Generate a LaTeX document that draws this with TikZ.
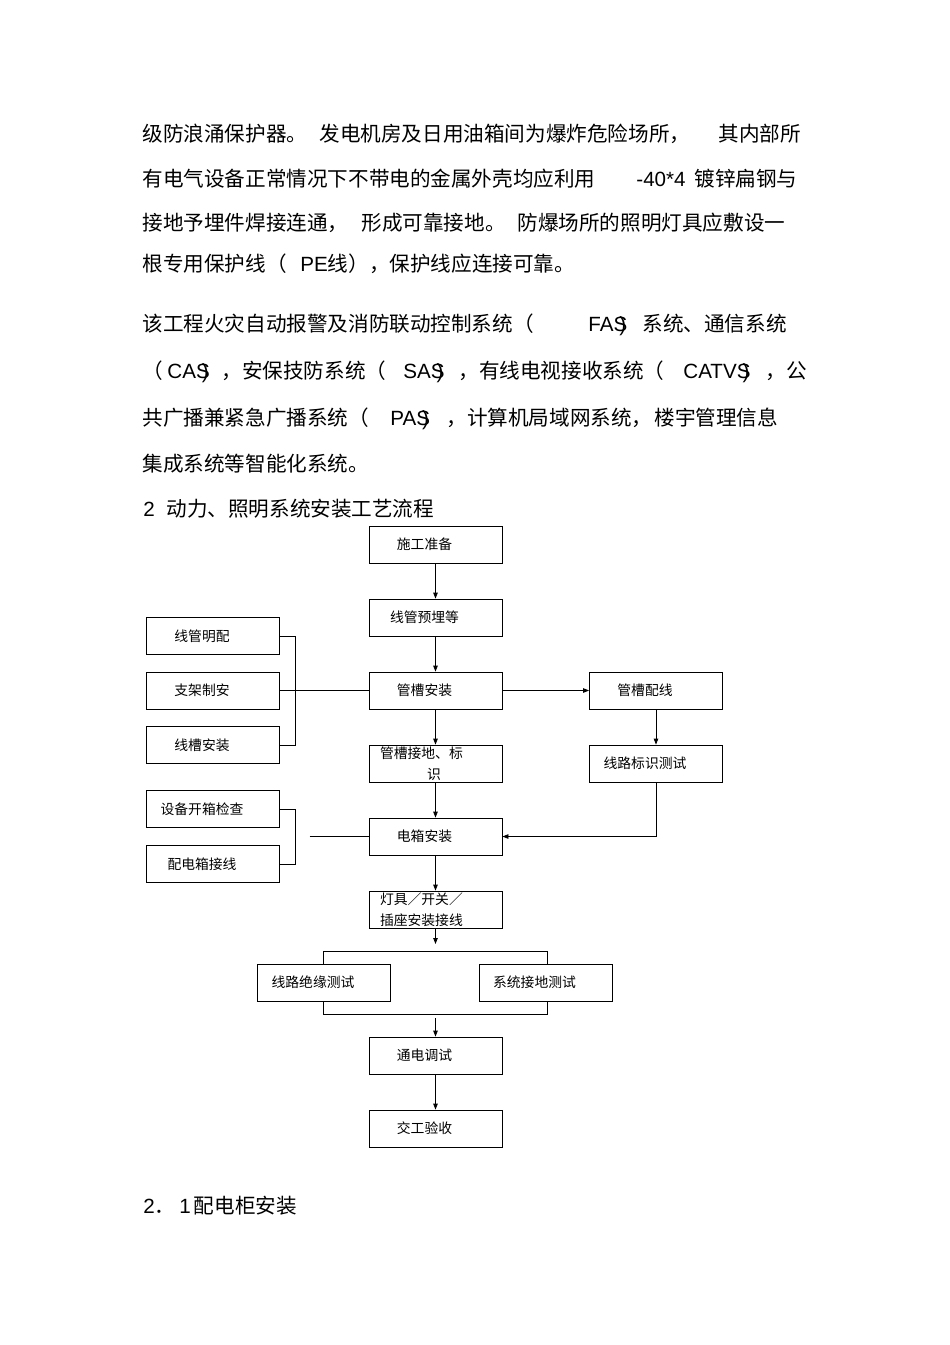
\documentclass[tikz,border=0pt]{standalone}
\usepackage{fontspec}
\setmainfont{Noto Sans CJK SC}
\newfontfamily\lat{Liberation Sans}
\usetikzlibrary{positioning,arrows.meta}
\newcommand{\bodyfont}{\fontsize{20.6}{24}\selectfont}
\newcommand{\boxfont}{\fontsize{13.8}{21}\selectfont}
\tikzset{
  box/.style={draw, fill=white, minimum width=133pt, minimum height=37pt, inner sep=0pt, font=\boxfont},
  boxt/.style={box, label={[xshift=-11pt, font=\boxfont]center:#1}},
  para/.style={anchor=base west, inner sep=0pt, font=\bodyfont, yshift=-8pt},
}

\begin{document}
\begin{tikzpicture}[x=1pt, y=-1pt, >={Triangle[length=6pt,width=4.5pt]}, node distance=73pt, on grid, line width=0.8pt]
  \fill[white] (0,0) rectangle (950,1345);
  \useasboundingbox (0,0) rectangle (950,1345);

  % text above the chart
  \node[para] (p1a) at (142,133) {级防浪涌保护器。};
  \node[para] (p1b) at (319,133) {发电机房及日用油箱间为爆炸危险场所，};
  \node[para] (p1c) at (718,133) {其内部所};
  \node[para] (p2a) at (142,178) {有电气设备正常情况下不带电的金属外壳均应利用};
  \node[para] (p2b) at (636,178) {\lat -40*4};
  \node[para] (p2c) at (694,178) {镀锌扁钢与};
  \node[para] (p3a) at (142,222) {接地予埋件焊接连通，};
  \node[para] (p3b) at (361,222) {形成可靠接地。};
  \node[para] (p3c) at (517,222) {防爆场所的照明灯具应敷设一};
  \node[para] (p4a) at (142,263) {根专用保护线（};
  \node[para] (p4b) at (300,263) {{\lat PE}线），保护线应连接可靠。};
  \node[para] (p5a) at (142,323) {该工程火灾自动报警及消防联动控制系统（};
  \node[para] (p5b) at (588,323) {\lat FAS\kern-8pt)};
  \node[para] (p5c) at (642,323) {系统、通信系统};
  \node[para] (p6a) at (142,370) {（};
  \node[para] (p6b) at (167,370) {\lat CAS\kern-8pt)};
  \node[para] (p6c) at (221,370) {，安保技防系统（};
  \node[para] (p6d) at (403,370) {\lat SAS\kern-8pt)};
  \node[para] (p6e) at (458,370) {，有线电视接收系统（};
  \node[para] (p6f) at (683,370) {\lat CATVS\kern-8pt)};
  \node[para] (p6g) at (765,370) {，公};
  \node[para] (p7a) at (142,417) {共广播兼紧急广播系统（};
  \node[para] (p7b) at (390,417) {\lat PAS\kern-8pt)};
  \node[para] (p7c) at (446,417) {，计算机局域网系统，};
  \node[para] (p7d) at (654,417) {楼宇管理信息};
  \node[para] (p8) at (142,463) {集成系统等智能化系统。};
  \node[para] (p9a) at (143,508) {\lat 2};
  \node[para] (p9b) at (166,508) {动力、照明系统安装工艺流程};

  % main column
  \node[boxt=施工准备] (s1) at (435.5,544.5) {};
  \node[boxt=线管预埋等, below=of s1] (s2) {};
  \node[boxt=管槽安装, below=of s2] (s3) {};
  \node[box, text width=111pt, align=left, below=of s3] (s4) {管槽接地、标\\\hspace*{47pt}识};
  \node[boxt=电箱安装, below=of s4] (s5) {};
  \node[box, text width=111pt, align=left, below=of s5] (s6) {灯具／开关／\\插座安装接线};

  % tests
  \coordinate[below=of s6] (tc);
  \coordinate[above=38.5pt of tc] (tin);
  \coordinate[below=35.5pt of tc] (tout);
  \draw ([xshift=-112pt,yshift=31.5pt]tc) rectangle ([xshift=112pt,yshift=-31.5pt]tc);
  \node[boxt=线路绝缘测试, below left=73pt and 111.5pt of s6] (t1) {};
  \node[boxt=系统接地测试, below right=73pt and 110pt of s6] (t2) {};
  \node[boxt=通电调试, below=146pt of s6] (s7) {};
  \node[boxt=交工验收, below=of s7] (s8) {};

  % side boxes
  \node[boxt=管槽配线, right=220.5pt of s3] (r1) {};
  \node[boxt=线路标识测试, below=of r1] (r2) {};
  \node[boxt=支架制安, left=222.5pt of s3] (l2) {};
  \node[boxt=线管明配, above=54.5pt of l2] (l1) {};
  \node[boxt=线槽安装, below=54.5pt of l2] (l3) {};
  \node[boxt=设备开箱检查, above left=27.5pt and 222.5pt of s5] (l4) {};
  \node[boxt=配电箱接线, below left=27.5pt and 222.5pt of s5] (l5) {};
  \coordinate[left=59pt of s5.west] (e0);

  \path[->]
  (s1) edge (s2)
  (s2) edge (s3)
  (s3) edge (s4)
  (s4) edge (s5)
  (s5) edge (s6)
  (s3) edge (r1)
  (r1) edge (r2)
  (s6) edge (tin)
  (tout) edge (s7)
  (s7) edge (s8);
  \draw[->] (r2) |- (s5);

  \draw (l1) -| ([xshift=15pt]l3.east) -- (l3);
  \draw (l2) -- (s3);
  \draw (l4) -| ([xshift=15pt]l5.east) -- (l5);
  \draw (e0) -- (s5);

  % text below the chart
  \node[para] (q1a) at (143,1205) {{\lat 2}．};
  \node[para] (q1b) at (179,1205) {{\lat 1}\hspace{3pt}配电柜安装};
\end{tikzpicture}
\end{document}
